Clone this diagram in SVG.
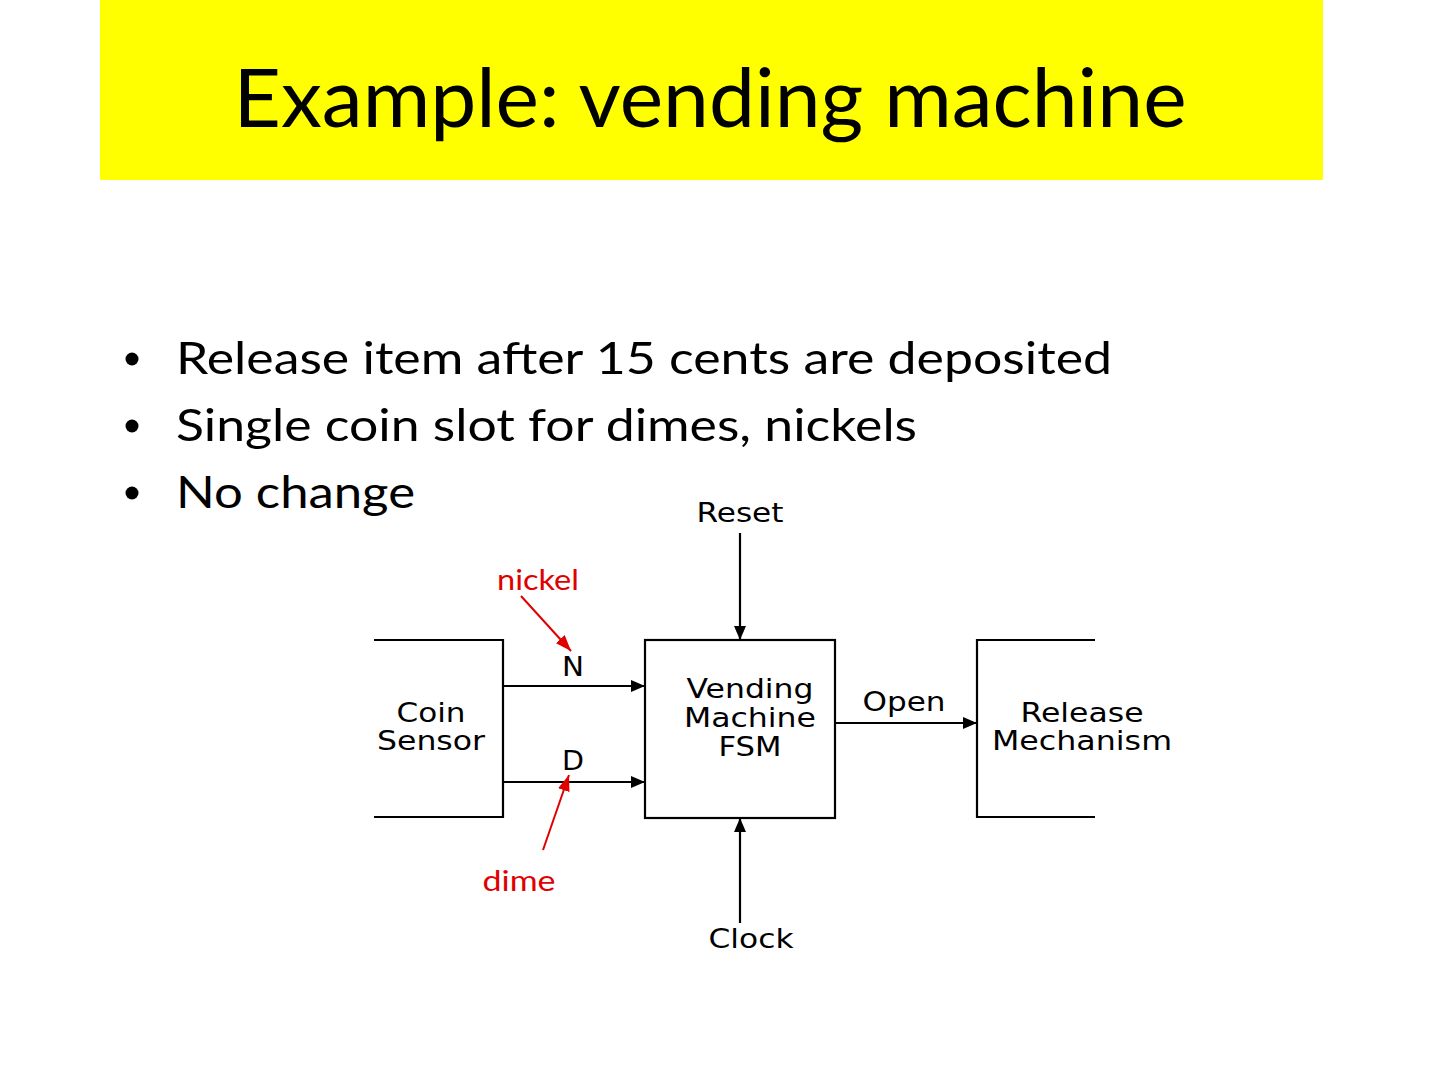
<svg xmlns="http://www.w3.org/2000/svg" width="1440" height="1080" viewBox="0 0 1440 1080">
<style>
.title{font-family:Lato,"Liberation Sans",sans-serif;font-size:82px;fill:#000}
.bul{font-family:Lato,"Liberation Sans",sans-serif;font-size:45px;fill:#000}
.lbl{font-family:"DejaVu Sans",sans-serif;font-size:26px;fill:#000}
.red{font-family:Lato,"Liberation Sans",sans-serif;font-size:28px;fill:#e00000}
.ln{stroke:#000;stroke-width:2.2;fill:none}
.rl{stroke:#e00000;stroke-width:2;fill:none}
</style>
<defs>
<marker id="ah" viewBox="0 0 14 12" refX="14" refY="6" markerWidth="14" markerHeight="12" markerUnits="userSpaceOnUse" orient="auto"><path d="M0,0 L14,6 L0,12 z" fill="#000"/></marker>
<marker id="rh" viewBox="0 0 16 12" refX="16" refY="6" markerWidth="16" markerHeight="12" markerUnits="userSpaceOnUse" orient="auto"><path d="M0,0 L16,6 L0,12 z" fill="#e00000"/></marker>
</defs>
<rect width="1440" height="1080" fill="#fff"/>
<g id="title">
<rect x="100" y="0" width="1223" height="180" fill="#ffff00"/>
<text class="title" x="710" y="127" text-anchor="middle" textLength="953" lengthAdjust="spacingAndGlyphs">Example: vending machine</text>
</g>
<g id="bullets">
<circle cx="132" cy="359" r="6.5" fill="#000"/>
<circle cx="132" cy="426" r="6.5" fill="#000"/>
<circle cx="132" cy="493" r="6.5" fill="#000"/>
<text class="bul" x="176" y="374" textLength="936" lengthAdjust="spacingAndGlyphs">Release item after 15 cents are deposited</text>
<text class="bul" x="176" y="441" textLength="741" lengthAdjust="spacingAndGlyphs">Single coin slot for dimes, nickels</text>
<text class="bul" x="176" y="508" textLength="239" lengthAdjust="spacingAndGlyphs">No change</text>
</g>
<g id="coin-sensor">
<path class="ln" d="M374,640 H503 V817 H374"/>
<text class="lbl" x="431" y="722" text-anchor="middle" textLength="69" lengthAdjust="spacingAndGlyphs">Coin</text>
<text class="lbl" x="431" y="750" text-anchor="middle" textLength="108" lengthAdjust="spacingAndGlyphs">Sensor</text>
</g>
<g id="fsm">
<rect class="ln" x="645" y="640" width="190" height="178"/>
<text class="lbl" x="750" y="698" text-anchor="middle" textLength="127" lengthAdjust="spacingAndGlyphs">Vending</text>
<text class="lbl" x="750" y="727" text-anchor="middle" textLength="132" lengthAdjust="spacingAndGlyphs">Machine</text>
<text class="lbl" x="750" y="756" text-anchor="middle" textLength="63" lengthAdjust="spacingAndGlyphs">FSM</text>
</g>
<g id="release">
<path class="ln" d="M1095,640 H977 V817 H1095"/>
<text class="lbl" x="1082" y="722" text-anchor="middle" textLength="123" lengthAdjust="spacingAndGlyphs">Release</text>
<text class="lbl" x="1082" y="750" text-anchor="middle" textLength="180" lengthAdjust="spacingAndGlyphs">Mechanism</text>
</g>
<g id="connectors">
<line class="ln" x1="503" y1="686" x2="645" y2="686" marker-end="url(#ah)"/>
<line class="ln" x1="503" y1="782" x2="645" y2="782" marker-end="url(#ah)"/>
<line class="ln" x1="835" y1="723" x2="977" y2="723" marker-end="url(#ah)"/>
<line class="ln" x1="740" y1="533" x2="740" y2="640" marker-end="url(#ah)"/>
<line class="ln" x1="740" y1="923" x2="740" y2="818" marker-end="url(#ah)"/>
<line class="rl" x1="521" y1="596" x2="571" y2="651" marker-end="url(#rh)"/>
<line class="rl" x1="543" y1="850" x2="569" y2="775" marker-end="url(#rh)"/>
</g>
<g id="labels">
<text class="lbl" x="740" y="522" text-anchor="middle" textLength="87" lengthAdjust="spacingAndGlyphs">Reset</text>
<text class="lbl" x="751" y="948" text-anchor="middle" textLength="85" lengthAdjust="spacingAndGlyphs">Clock</text>
<text class="lbl" x="904" y="711" text-anchor="middle" textLength="83" lengthAdjust="spacingAndGlyphs">Open</text>
<text class="lbl" x="573" y="676" text-anchor="middle" textLength="22" lengthAdjust="spacingAndGlyphs">N</text>
<text class="lbl" x="573" y="770" text-anchor="middle" textLength="22" lengthAdjust="spacingAndGlyphs">D</text>
<text class="red" x="538" y="590" text-anchor="middle" textLength="82" lengthAdjust="spacingAndGlyphs">nickel</text>
<text class="red" x="519" y="891" text-anchor="middle" textLength="73" lengthAdjust="spacingAndGlyphs">dime</text>
</g>
</svg>
